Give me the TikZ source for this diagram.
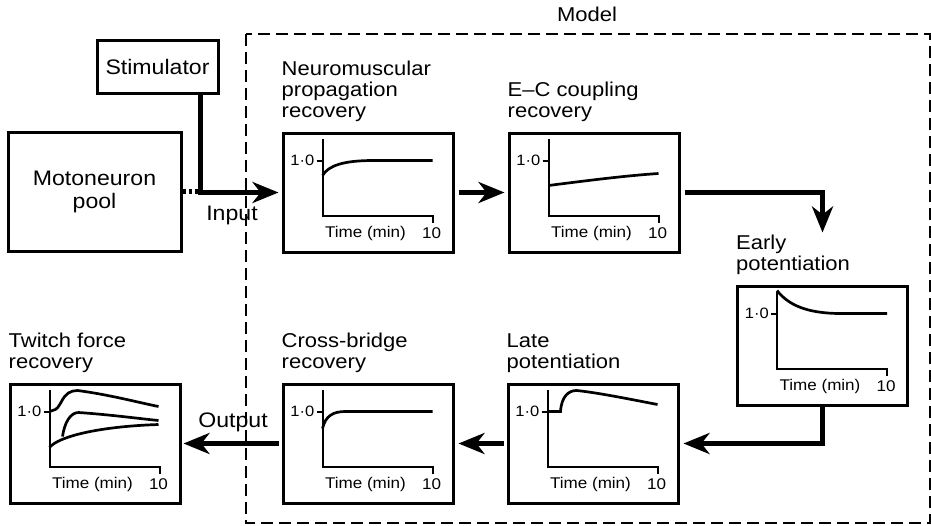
\documentclass[tikz,border=0pt]{standalone}
\usepackage{fontspec}
\setmainfont{Liberation Sans}[FakeStretch=1.1]
\usetikzlibrary{arrows.meta, positioning}
\tikzset{
  plotaxes/.pic={
    \draw[axis] (41,7) -- (41,84) -- (151,84) -- (151,91);
    \draw[axis] (35,29) -- (41,29);
    \node[small, anchor=east] at (33,29) {1·0};
    \node[mid] at (84,102) {Time (min)};
    \node[mid] at (150,102) {10};
  }
}

\begin{document}
\begin{tikzpicture}[x=1pt, y=-1pt, >={Stealth[length=26pt, width=21pt, inset=8pt]},
  every node/.style={inner sep=0pt, font=\fontsize{20}{21}\selectfont},
  big/.style={font=\fontsize{21}{23}\selectfont},
  box/.style={draw, line width=3pt, align=center, big},
  graphbox/.style={draw, line width=3pt, minimum width=170pt, minimum height=119pt},
  title/.style={anchor=south west, align=left, yshift=10pt},
  flow/.style={->, line width=5pt},
  dotline/.style={line width=5pt, dash pattern=on 3pt off 3pt},
  axis/.style={line width=2pt},
  curve/.style={line width=2.7pt},
  small/.style={font=\fontsize{15}{15}\selectfont},
  mid/.style={font=\fontsize{15.5}{15.5}\selectfont},
  frame/.style={line width=2pt, dash pattern=on 12pt off 6pt}]
\useasboundingbox (0,0) rectangle (931,525);

\node[box, minimum width=121pt, minimum height=53pt] (stim) at (157.5,66.5) {Stimulator};
\node[box, minimum width=173pt, minimum height=119pt] (moto) at (94.5,191.5) {Motoneuron\\pool};
\node[graphbox] (neuro) at (368,192.5) {};
\node[graphbox, right=53pt of neuro] (ecc) {};
\node[graphbox] (early) at (822.5,345.5) {};
\node[graphbox, below=129pt of neuro] (cross) {};
\node[graphbox, right=52pt of cross] (late) {};
\node[graphbox, left=100pt of cross] (twitch) {};

\node[title] (neurotitle) at (neuro.north west) {Neuromuscular\\propagation\\recovery};
\node[title] (ecctitle) at (ecc.north west) {E–C coupling\\recovery};
\node[title] (earlytitle) at (early.north west) {Early\\potentiation};
\node[title] (latetitle) at (late.north west) {Late\\potentiation};
\node[title] (crosstitle) at (cross.north west) {Cross-bridge\\recovery};
\node[title] (twitchtitle) at (twitch.north west) {Twitch force\\recovery};

\node (model) at (587,14) {Model};
\node[big] (input) at (232,215) {Input};
\node[big] (output) at (233,422) {Output};
\draw[frame] (246,34) rectangle (930,523);

\begin{scope}[shift={(neuro.north west)}]
\pic {plotaxes};
\draw[curve] (41,44) .. controls (47,34) and (62,29) .. (92,29) -- (151,29);
\end{scope}
\begin{scope}[shift={(ecc.north west)}]
\pic {plotaxes};
\draw[curve] (41,54) .. controls (80,49) and (120,44) .. (151,42);
\end{scope}
\begin{scope}[shift={(early.north west)}]
\pic {plotaxes};
\draw[curve] (41,6) .. controls (52,20) and (70,29) .. (105,29) -- (151,29);
\end{scope}
\begin{scope}[shift={(late.north west)}]
\pic {plotaxes};
\draw[curve] (41,29) -- (54,29) .. controls (55,14) and (62,8) .. (70,8) .. controls (90,10) and (120,16) .. (151,22);
\end{scope}
\begin{scope}[shift={(cross.north west)}]
\pic {plotaxes};
\draw[curve] (41,46) .. controls (44,33) and (52,29) .. (64,29) -- (151,29);
\end{scope}
\begin{scope}[shift={(twitch.north west)}]
\pic {plotaxes};
\draw[curve] (41,29) -- (44,28) .. controls (49,27) and (50,24) .. (53,19) .. controls (57,11) and (62,8) .. (69,8) .. controls (100,12) and (130,20) .. (150,24);
\draw[curve] (54,54) .. controls (56,40) and (62,30) .. (70,30) .. controls (100,32) and (130,36) .. (150,38);
\draw[curve] (41,65) .. controls (50,54) and (90,44) .. (150,42);
\end{scope}

\draw[dotline] (moto.east) -- ++(18,0);
\draw[flow, shorten >=3pt] ([xshift=-19pt]stim.south east) |- (neuro.west);
\draw[flow, shorten <=4pt, shorten >=3pt] (neuro.east) -- (ecc.west);
\draw[flow, shorten <=4pt] (ecc.east) -| ([yshift=52pt]early.north);
\draw[flow, shorten >=4pt] (early.south) |- (late.east);
\draw[flow, shorten <=3pt, shorten >=4pt] (late.west) -- (cross.east);
\draw[flow, shorten <=3pt, shorten >=2pt] (cross.west) -- (twitch.east);
\end{tikzpicture}
\end{document}
